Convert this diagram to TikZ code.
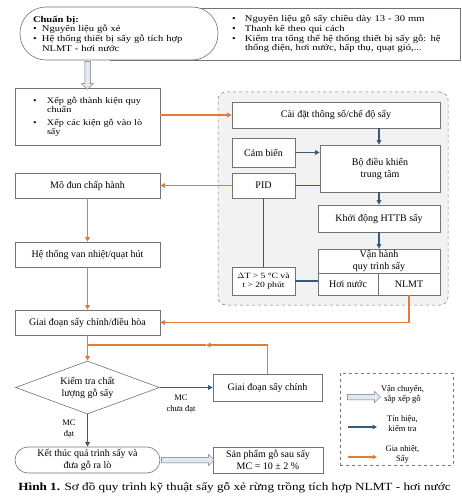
\documentclass[tikz,border=0pt]{standalone}
\usepackage{fontspec}
\setmainfont{Liberation Serif}
\newfontfamily\listfont[FakeStretch=1.2]{Liberation Serif}
\usetikzlibrary{shapes.geometric,shapes.arrows,arrows.meta}
\definecolor{heatorange}{RGB}{222,125,60}
\definecolor{signalblue}{RGB}{55,90,120}
\definecolor{boxgray}{RGB}{115,115,115}
\definecolor{panelback}{RGB}{242,242,242}
\definecolor{moveback}{RGB}{226,233,242}
\newcommand\bul[2][12pt]{\par\hangindent=#1\hangafter=1\noindent\hbox to #1{\textbullet\hfil}#2}
\newcommand\contline[2][12pt]{\par\noindent\hspace*{#1}#2}

\begin{document}
\begin{tikzpicture}[x=1pt,y=-1pt,
  box/.style={draw=boxgray,line width=0.6pt,fill=white,inner sep=2pt,align=center,
    font=\fontsize{10pt}{12pt}\selectfont},
  small/.style={font=\listfont\fontsize{8.8pt}{9.6pt}\selectfont},
  heat/.style={draw=heatorange,line width=1.2pt},
  signal/.style={draw=signalblue,line width=1.2pt},
  tip/.style={-{Triangle[length=4.5pt,width=4.5pt]}},
  movearrow/.style={single arrow,draw=boxgray,fill=moveback,line width=0.5pt,
    minimum height=#1,inner sep=2.5pt,single arrow head extend=3pt,anchor=center}]
\useasboundingbox (0,0) rectangle (462,500);

% chuan bi
\node [box,small,minimum width=350,minimum height=52,text width=340,align=right] (checks) at (285,34)
{\parbox{223pt}{\bul[13pt]{Nguyên liệu gỗ sấy chiều dày 13 - 30 mm}
\bul[13pt]{Thanh kê theo qui cách}
\bul[13pt]{Kiểm tra tổng thể hệ thống thiết bị sấy gỗ: hệ\linebreak thống điện, hơi nước, hấp thụ, quạt gió,...}}};
\node [box,small,rounded corners=26pt,minimum width=198,minimum height=53,text width=172,align=left] (prep) at (119,33.5)
{\parbox{172pt}{\raggedright\textbf{Chuẩn bị:}\bul[9pt]{Nguyên liệu gỗ xẻ}\bul[9pt]{Hệ thống thiết bị sấy gỗ tích hợp}\contline[9pt]{NLMT - hơi nước}}};

% cot trai
\node [box,small,font=\listfont\fontsize{8.5pt}{9pt}\selectfont,minimum width=145,minimum height=57,text width=129,align=right] (xep) at (87.5,116.5)
{\parbox{119pt}{\bul[14pt]{Xếp gỗ thành kiện quy\linebreak chuẩn}\par\vspace{4pt}
\bul[14pt]{Xếp các kiện gỗ vào lò\linebreak sấy}}};
\node [box,minimum width=145,minimum height=25] (modun) at (87.5,185.5) {Mô đun chấp hành};
\node [box,minimum width=145,minimum height=25] (van) at (87.5,254.5) {Hệ thống van nhiệt/quạt hút};
\node [box,minimum width=145,minimum height=25] (gd) at (87.5,322.5) {Giai đoạn sấy chính/điều hòa};
\node [box,diamond,aspect=2.8,inner sep=0pt,minimum width=144,minimum height=53] (kt) at (87.5,387.5) {Kiểm tra chất\\lượng gỗ sấy};
\node [box,rounded corners=13pt,minimum width=145,minimum height=26] (ketthuc) at (87.5,460) {Kết thúc quá trình sấy và\\đưa gỗ ra lò};
\node [box,minimum width=109,minimum height=27] (gdc) at (267.5,387.5) {Giai đoạn sấy chính};
\node [box,minimum width=110,minimum height=26] (sp) at (268,460) {Sản phẩm gỗ sau sấy\\MC = 10 ± 2 \%};

% bo dieu khien
\node [draw=boxgray,dashed,line width=0.5pt,fill=panelback,rounded corners=8pt,minimum width=230,minimum height=213] (ctrl) at (333,198.5) {};
\node [box,minimum width=208,minimum height=26] (caidat) at (336,115) {Cài đặt thông số/chế độ sấy};
\node [box,minimum width=63,minimum height=29] (cambien) at (263.5,152.5) {Cảm biến};
\node [box,minimum width=120,minimum height=47] (bdk) at (380,168.5) {Bộ điều khiển\\trung tâm};
\node [box,minimum width=63,minimum height=25] (pid) at (263.5,185.5) {PID};
\node [box,minimum width=122,minimum height=27] (khoidong) at (379,218.5) {Khởi động HTTB sấy};
\node [box,minimum width=122,minimum height=23] (vanhanh) at (379,261.5) {Vận hành\\quy trình sấy};
\node [box,minimum width=60,minimum height=22] (hoinuoc) at (348,284) {Hơi nước};
\node [box,minimum width=62,minimum height=22] (nlmt) at (409,284) {NLMT};
\node [box,font=\listfont\fontsize{8pt}{9.5pt}\selectfont,minimum width=63,minimum height=28] (dt) at (263.5,281) {$\Delta$T > 5 °C và\\t > 20 phút};

% chu thich
\node [draw=boxgray,dashed,line width=0.5pt,minimum width=113,minimum height=92] (legend) at (396.5,419) {};
\node [align=center,font=\fontsize{8.5pt}{10pt}\selectfont] (lmove) at (402.5,394) {Vận chuyển,\\sắp xếp gỗ};
\node [align=center,font=\fontsize{8.5pt}{10pt}\selectfont] (lsignal) at (402.5,424) {Tín hiệu,\\kiểm tra};
\node [align=center,font=\fontsize{8.5pt}{10pt}\selectfont] (lheat) at (402.5,454) {Gia nhiệt,\\Sấy};
\coordinate (ms) at (346,397);
\coordinate (me) at (379,397);
\coordinate (ss) at (348,427);
\coordinate (se) at (377,427);
\coordinate (hs) at (348,457);
\coordinate (he) at (377,457);

% mui ten rong
\path (prep.south -| xep.north) -- (xep.north) node [midway,movearrow=28pt,rotate=-90] (load) {};
\path (ketthuc.east) -- (sp.west) node [midway,movearrow=53pt] (out) {};
\path (ms) -- (me) node [midway,movearrow=33pt] (lmovearrow) {};

% gia nhiet
\draw [heat,tip] (xep.east |- caidat.west) -- (caidat.west);
\draw [heat,tip] (pid.west) -- (modun.east);
\draw [heat,tip] (modun.south) -- (van.north);
\draw [heat,tip] (van.south) -- (gd.north);
\draw [heat,tip] (nlmt.south) |- (gd.east);
\draw [heat,tip] (gd.south) -- (kt.north);
\coordinate (join) at (87.5,345);
\coordinate (back) at (206,345);
\draw [heat,tip] (gdc.north) |- (back);
\draw [heat] (back) -- (join);
\draw [heat,tip] (hs) -- (he);

% tin hieu
\draw [signal,tip] (caidat.south -| khoidong.north) -- (bdk.north -| khoidong.north);
\draw [signal,tip] (cambien.east) -- (cambien.east -| bdk.west);
\draw [signal] (pid.east) -- (pid.east -| bdk.west);
\draw [signal,tip] (bdk.south -| khoidong.north) -- (khoidong.north);
\draw [signal,tip] (khoidong.south) -- (vanhanh.north);
\draw [signal] (pid.south) -- (dt.north);
\draw [signal] (dt.east) -- (dt.east -| hoinuoc.west);
\draw [signal,tip] (kt.east) -- (gdc.west);
\draw [signal,tip] (kt.south) -- (ketthuc.north);
\draw [signal,tip] (ss) -- (se);
\node [align=center,font=\fontsize{8.5pt}{11pt}\selectfont] (notok) at (181,404) {MC\\chưa đạt};
\node [align=center,font=\fontsize{8.5pt}{11pt}\selectfont] (ok) at (69,429) {MC\\đạt};

\node [font=\listfont\fontsize{11pt}{13pt}\selectfont] (caption) at (234.5,488)
{\textbf{Hình 1.} Sơ đồ quy trình kỹ thuật sấy gỗ xẻ rừng trồng tích hợp NLMT - hơi nước};
\end{tikzpicture}
\end{document}
